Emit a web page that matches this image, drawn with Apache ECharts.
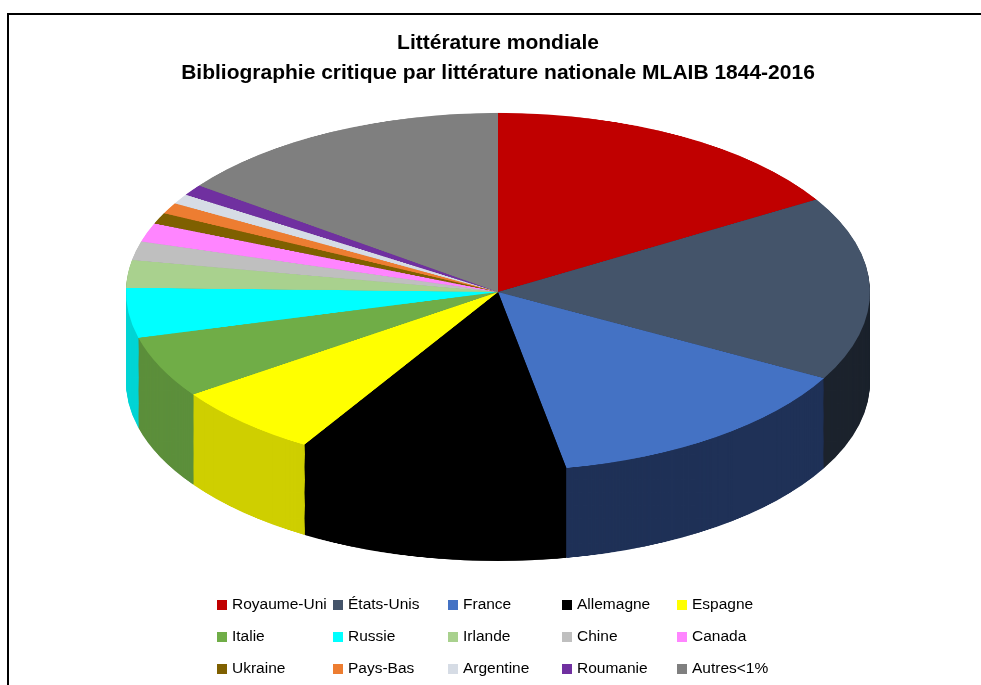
<!DOCTYPE html>
<html lang="fr">
<head>
<meta charset="utf-8" />
<title>Littérature mondiale</title>
<script src="https://cdn.jsdelivr.net/npm/echarts@6/dist/echarts.min.js"></script>
<style>
  html, body { margin: 0; padding: 0; background: #fff; overflow: hidden; width: 981px; height: 685px; }
  #frame { position: absolute; left: 7px; top: 13px; width: 1000px; height: 700px; border-left: 2px solid #000; border-top: 2px solid #000; }
  /* the pie is drawn flat and squashed to look tilted */
  #pie { position: absolute; left: 0; top: 0; width: 981px; height: 1200px; transform-origin: 0 0; }
  #chart { position: absolute; left: 0; top: 0; width: 996px; height: 685px; }
</style>
</head>
<body>
<div id="frame"></div>
<div id="pie"></div>
<div id="chart"></div>
<script>
var countries = ['Royaume-Uni', 'États-Unis', 'France', 'Allemagne', 'Espagne',
                 'Italie', 'Russie', 'Irlande', 'Chine', 'Canada',
                 'Ukraine', 'Pays-Bas', 'Argentine', 'Roumanie', 'Autres<1%'];
// share of the bibliography, %
var shares = [16.4, 16.7, 14.1, 11.7, 6.6, 5.6, 4.5, 2.5, 1.7, 1.7, 1.0, 1.0, 0.9, 1.0, 14.9];

var topColors = ['#C00000', '#44546A', '#4472C4', '#000000', '#FFFF00',
                 '#70AD47', '#00FFFF', '#A9D18E', '#BFBFBF', '#FF85FF',
                 '#7F6000', '#ED7D31', '#D6DCE5', '#7030A0', '#7F7F7F'];
var sideColors = ['#6B0000', '#1C232D', '#1F3157', '#000000', '#CFCF00',
                  '#5C8F3B', '#00D5D5', '#8DAF75', '#9F9F9F', '#D46ED4',
                  '#5A4400', '#C0652A', '#B0B5BC', '#5A2680', '#666666'];

var TILT = 179 / 372;        // vertical squash of the top face
var RX = 372;                // pie radius
var CX = 498, CY = 292;      // centre of top face on screen
var DEPTH = 90;              // thickness on screen

var pieDiv = document.getElementById('pie');
pieDiv.style.transform = 'scaleY(' + TILT + ')';

function pieData(colors) {
  return countries.map(function (n, i) {
    return { name: n, value: shares[i], itemStyle: { color: colors[i] } };
  });
}

function pieLayer(dy, colors, z) {
  return {
    type: 'pie',
    silent: true,
    animation: false,
    startAngle: 90,
    clockwise: true,
    center: [CX, CY / TILT + dy],
    radius: [0, RX],
    z: z,
    label: { show: false },
    labelLine: { show: false },
    emphasis: { disabled: true },
    itemStyle: { borderWidth: 0 },
    data: pieData(colors)
  };
}

// side wall: stacked darker copies, top face last
var layers = [];
var depthU = DEPTH / TILT;
var z = 1;
for (var d = depthU; d > 0; d -= 2) {
  layers.push(pieLayer(d, sideColors, z++));
}
layers.push(pieLayer(0, topColors, z++));

var pieChart = echarts.init(pieDiv, null, { renderer: 'canvas' });
pieChart.setOption({ animation: false, series: layers });

// title and legend (5 columns x 3 rows)
var colLefts = [217, 333, 448, 562, 677];
var rowTops = [597, 629, 661];
var font = "'Liberation Sans', Arial, sans-serif";

var legends = countries.map(function (n, i) {
  return {
    data: [n],
    left: colLefts[i % 5],
    top: rowTops[Math.floor(i / 5)],
    padding: 0,
    icon: 'rect',
    itemWidth: 10,
    itemHeight: 10,
    selectedMode: false,
    textStyle: { fontFamily: font, fontSize: 15.5, color: '#000' }
  };
});

var chart = echarts.init(document.getElementById('chart'));
chart.setOption({
  animation: false,
  title: {
    text: 'Littérature mondiale\nBibliographie critique par littérature nationale MLAIB 1844-2016',
    left: 'center',
    top: 23,
    textStyle: { fontFamily: font, fontSize: 21, fontWeight: 'bold', color: '#000', lineHeight: 30 }
  },
  legend: legends,
  series: [{
    type: 'pie',
    silent: true,
    radius: [0, 0],
    label: { show: false },
    labelLine: { show: false },
    data: pieData(topColors)
  }]
});
</script>
</body>
</html>
